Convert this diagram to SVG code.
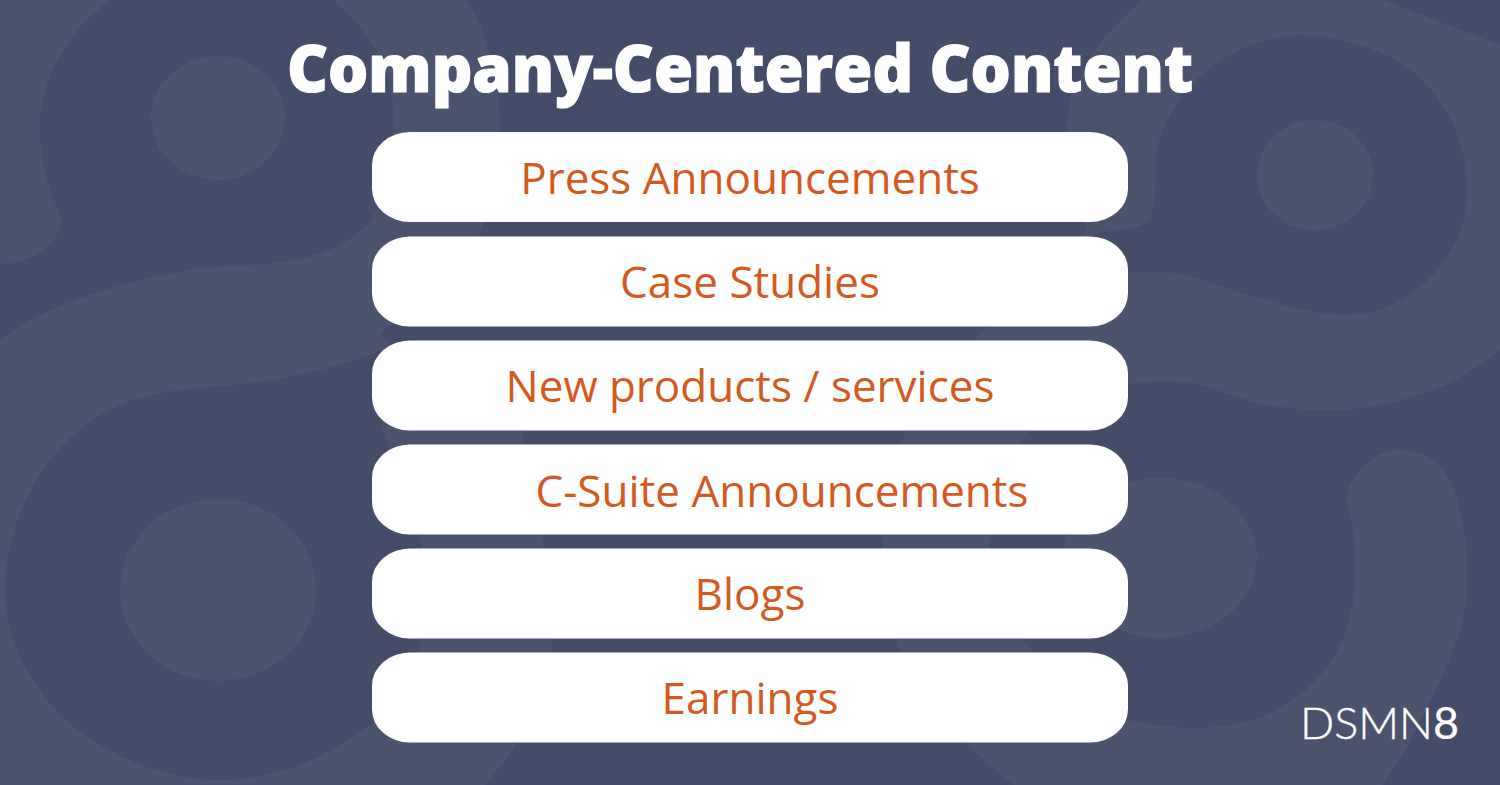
<svg xmlns="http://www.w3.org/2000/svg" width="1500" height="785" viewBox="0 0 1500 785">
<style>
.bg{fill:#4c536e}
.dk{fill:#454c69}
.lt{fill:#4c536e}
.box{fill:#fff}
.lbl{font-family:"Open Sans","Noto Sans",sans-serif;font-size:44px;fill:#d4591f;text-anchor:middle}
.title{font-family:"Open Sans","Noto Sans",sans-serif;font-size:66px;font-weight:800;fill:#fff;stroke:#fff;stroke-width:1.2px;text-anchor:middle}
.logo{font-family:"Lato","Inter",sans-serif;font-size:44px;font-weight:300;fill:#fff;stroke:#fff;stroke-width:.4px}
.eight{font-weight:400;stroke-width:.2px}
</style>
<g id="background">
<rect class="bg" width="1500" height="785"/>
<path class="dk" d="M110 0C70 30 40 75 40 130C40 165 50 190 62 220C58 245 35 262 0 265L0 340C30 315 100 285 200 268C260 262 320 270 367 225C385 205 393 160 393 115C393 70 370 30 333 0Z"/>
<path class="dk" d="M383 350C325 372 280 380 233 385C190 388 160 392 133 400C70 420 10 490 5 585C5 640 25 675 60 715C110 760 170 780 217 780C270 780 320 765 383 715C405 695 427 650 427 590C427 530 395 470 382 425C375 395 375 370 383 350Z"/>
<path class="dk" d="M467 0L1143 0C1105 30 1070 75 1067 125C1062 170 1070 205 1088 228C1040 270 1010 300 980 335C930 380 900 430 885 490C878 540 885 600 897 642C915 690 960 745 1015 785L485 785C520 745 552 690 552 640C552 560 530 490 522 431C490 395 430 370 395 350L380 333C430 300 470 270 480 232C495 200 500 165 500 130C500 85 490 40 467 0Z"/>
<path class="dk" d="M1157 150C1155 175 1157 200 1150 220C1140 228 1125 230 1113 230L1085 238L1090 270L1128 272L1167 272C1190 275 1210 282 1233 290C1265 300 1295 310 1330 314C1380 320 1420 295 1445 260C1460 240 1467 215 1467 190C1467 140 1445 95 1405 65C1370 45 1335 35 1300 35C1225 40 1170 90 1157 150Z"/>
<path class="dk" d="M1500 350C1480 365 1460 380 1433 390C1400 402 1365 410 1333 410C1305 410 1285 408 1267 405C1235 398 1210 385 1183 382C1160 380 1145 382 1128 385C1090 390 1050 405 1025 435C1000 470 990 505 990 540C990 580 1000 615 1025 642C1050 675 1090 710 1128 720C1165 728 1200 730 1233 725C1270 718 1300 700 1325 670C1345 645 1355 610 1355 575C1355 550 1355 535 1350 515C1345 505 1345 495 1350 485C1365 460 1380 450 1400 450C1425 450 1440 462 1450 480C1462 510 1467 545 1467 575C1467 600 1465 620 1457 640C1447 665 1435 695 1420 720C1410 745 1395 765 1383 785L1500 785Z"/>
<path class="dk" d="M1383 0L1500 45L1500 0Z"/>
<ellipse class="lt" cx="218" cy="118" rx="67" ry="62"/>
<ellipse class="lt" cx="218" cy="590" rx="98" ry="91"/>
<ellipse class="lt" cx="1315" cy="175" rx="58" ry="55"/>
<ellipse class="lt" cx="1160" cy="558" rx="97" ry="80"/>
</g>
<text id="title" class="title" x="740" y="92" textLength="906" lengthAdjust="spacingAndGlyphs">Company-Centered Content</text>
<g id="node-press"><rect class="box" x="372" y="132" width="756" height="90" rx="38" ry="33"/><text class="lbl" x="750" y="194">Press Announcements</text></g>
<g id="node-case"><rect class="box" x="372" y="236.5" width="756" height="90" rx="38" ry="33"/><text class="lbl" x="750" y="298">Case Studies</text></g>
<g id="node-new"><rect class="box" x="372" y="340.5" width="756" height="90" rx="38" ry="33"/><text class="lbl" x="750" y="402">New products / services</text></g>
<g id="node-csuite"><rect class="box" x="372" y="444.5" width="756" height="90" rx="38" ry="33"/><text class="lbl" x="782" y="507">C-Suite Announcements</text></g>
<g id="node-blogs"><rect class="box" x="372" y="548.5" width="756" height="90" rx="38" ry="33"/><text class="lbl" x="750" y="610">Blogs</text></g>
<g id="node-earnings"><rect class="box" x="372" y="652.5" width="756" height="90" rx="38" ry="33"/><text class="lbl" x="750" y="714">Earnings</text></g>
<text id="logo" class="logo" x="1300" y="739" textLength="159" lengthAdjust="spacingAndGlyphs">DSMN<tspan class="eight">8</tspan></text>
<g id="connectors"/>
</svg>
